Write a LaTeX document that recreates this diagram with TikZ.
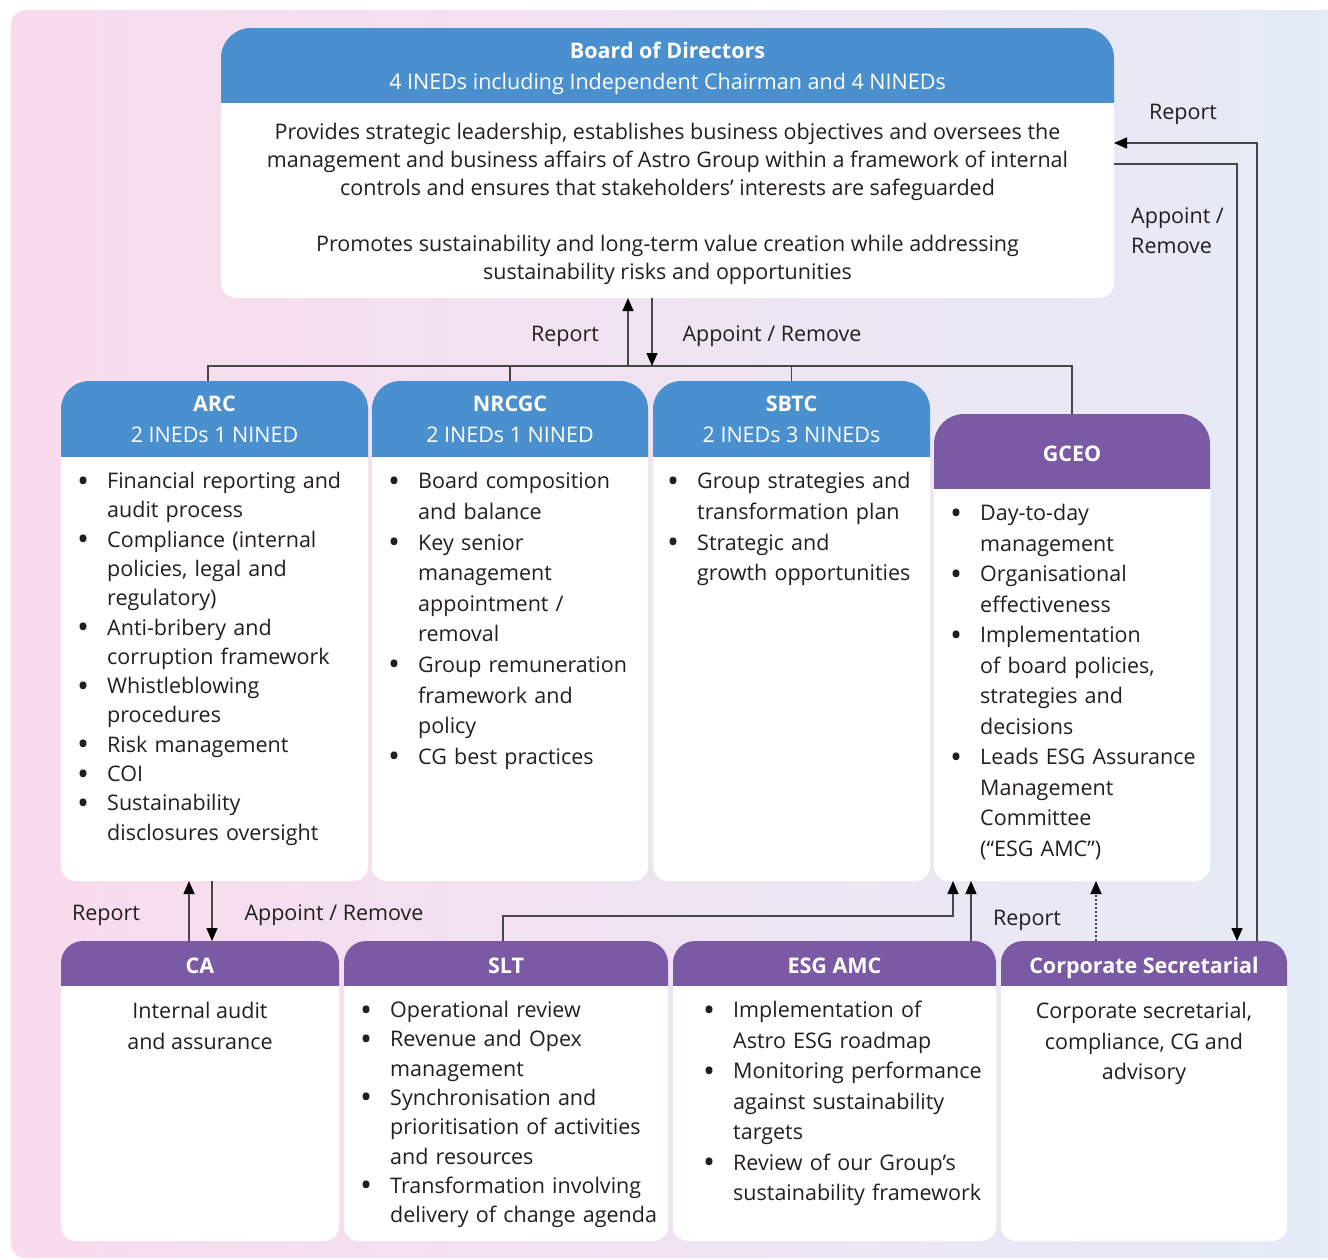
\documentclass[tikz,border=0pt]{standalone}
\usepackage{fontspec}
\setmainfont{Open Sans}
\usetikzlibrary{arrows.meta,positioning}

\definecolor{bgpink}{RGB}{249,219,238}
\definecolor{bgblue}{RGB}{228,236,246}
\definecolor{hdblue}{RGB}{74,144,206}
\definecolor{hdpurple}{RGB}{122,90,165}
\definecolor{ink}{RGB}{35,31,32}
\definecolor{linkgray}{RGB}{70,70,70}

\newlength\bulhang
\setlength\bulhang{27pt}
\newcommand{\itm}{\par\noindent\hangindent=\bulhang\hangafter=1%
  \makebox[\bulhang][l]{\kern-3pt\raisebox{-3.5pt}{\fontsize{32}{0}\selectfont\textbullet}}}
\newcommand{\hstrut}{\rule[-5.2pt]{0pt}{30.8pt}}

\tikzset{
  head/.style 2 args={inner sep=0pt, outer sep=0pt, text=white, align=center,
    font=\fontsize{21.5}{31}\selectfont,
    path picture={\fill[#1, rounded corners=#2] (path picture bounding box.north west) rectangle ([yshift=-40pt]path picture bounding box.south east);}},
  body/.style={inner sep=0pt, outer sep=0pt,
    path picture={\fill[white, rounded corners=15pt] ([yshift=30pt]path picture bounding box.north west) rectangle (path picture bounding box.south east);}},
  txt/.style={inner sep=0pt, text=ink, text width=330pt, anchor=north west,
    font=\fontsize{21.5}{#1}\selectfont},
  txt/.default=29.3,
  ctxt/.style={inner sep=0pt, text=ink, align=center, anchor=north,
    font=\fontsize{21.5}{#1}\selectfont},
  ctxt/.default=30.5,
  lbl/.style={inner sep=0pt, text=ink, font=\fontsize{21.5}{30}\selectfont},
  link/.style={draw=linkgray, line width=1.4pt},
  arrow/.style={link, -{Triangle[length=13pt,width=11pt,black]}},
}

\begin{document}
\begin{tikzpicture}[x=1pt,y=-1pt]
  \useasboundingbox (0,0) rectangle (1328,1259);
  % background
  \shade[left color=bgpink, right color=bgblue, rounded corners=15pt] (11,10) rectangle (1360,1258);

  % board
  \node[head={hdblue}{30pt}, minimum width=893pt, minimum height=80pt] (board) at (667.5,68)
    {\textbf{Board of Directors}\\4 INEDs including Independent Chairman and 4 NINEDs};
  \node[body, minimum width=893pt, minimum height=195pt] (boardb) at (667.5,200.5) {};
  \node[ctxt=28] (boardtxt) at ([yshift=-20pt]boardb.north)
    {Provides strategic leadership, establishes business objectives and oversees the\\
     management and business affairs of Astro Group within a framework of internal\\
     controls and ensures that stakeholders’ interests are safeguarded\\[28pt]
     Promotes sustainability and long-term value creation while addressing\\
     sustainability risks and opportunities};

  % committees
  \node[head={hdblue}{28pt}, minimum width=307pt, minimum height=76pt] (arc) at (214.5,419)
    {\textbf{ARC}\\2 INEDs 1 NINED};
  \node[body, minimum width=307pt, minimum height=424pt, below=0pt of arc] (arcb) {};
  \node[txt] (arctxt) at ([shift={(19,2)}]arcb.north west) {%
    \itm Financial reporting and\newline audit process
    \itm Compliance (internal\newline policies, legal and\newline regulatory)
    \itm Anti-bribery and\newline corruption framework
    \itm Whistleblowing\newline procedures
    \itm Risk management
    \itm COI
    \itm Sustainability\newline disclosures oversight\par};

  \node[head={hdblue}{28pt}, minimum width=276pt, minimum height=76pt] (nrcgc) at (510,419)
    {\textbf{NRCGC}\\2 INEDs 1 NINED};
  \node[body, minimum width=276pt, minimum height=424pt, below=0pt of nrcgc] (nrcgcb) {};
  \node[txt=30.6] (nrcgctxt) at ([shift={(19,1)}]nrcgcb.north west) {%
    \itm Board composition\newline and balance
    \itm Key senior\newline management\newline appointment /\newline removal
    \itm Group remuneration\newline framework and\newline policy
    \itm CG best practices\par};

  \node[head={hdblue}{28pt}, minimum width=277pt, minimum height=76pt] (sbtc) at (791.5,419)
    {\textbf{SBTC}\\2 INEDs 3 NINEDs};
  \node[body, minimum width=277pt, minimum height=424pt, below=0pt of sbtc] (sbtcb) {};
  \node[txt=30.6] (sbtctxt) at ([shift={(17,1)}]sbtcb.north west) {%
    \itm Group strategies and\newline transformation plan
    \itm Strategic and\newline growth opportunities\par};

  \node[head={hdpurple}{30pt}, minimum width=276pt, minimum height=75pt] (gceo) at (1072,451.5)
    {\hstrut\textbf{GCEO}};
  \node[body, minimum width=276pt, minimum height=392pt, below=0pt of gceo] (gceob) {};
  \node[txt=30.5] (gceotxt) at ([shift={(19,1)}]gceob.north west) {%
    \itm Day-to-day\newline management
    \itm Organisational\newline effectiveness
    \itm Implementation\newline of board policies,\newline strategies and\newline decisions
    \itm Leads ESG Assurance\newline Management\newline Committee\newline (“ESG AMC”)\par};

  % management row
  \node[head={hdpurple}{22pt}, minimum width=278pt, minimum height=45pt] (ca) at (200,963.5)
    {\hstrut\textbf{CA}};
  \node[body, minimum width=278pt, minimum height=255pt, below=0pt of ca] (cab) {};
  \node[ctxt=31] (catxt) at ([yshift=-16pt]cab.north) {Internal audit\\and assurance};

  \node[head={hdpurple}{22pt}, minimum width=324pt, minimum height=45pt] (slt) at (506,963.5)
    {\hstrut\textbf{SLT}};
  \node[body, minimum width=324pt, minimum height=255pt, below=0pt of slt] (sltb) {};
  \node[txt] (slttxt) at ([shift={(19,2)}]sltb.north west) {%
    \itm Operational review
    \itm Revenue and Opex\newline management
    \itm Synchronisation and\newline prioritisation of activities\newline and resources
    \itm Transformation involving\newline delivery of change agenda\par};

  \node[head={hdpurple}{22pt}, minimum width=323pt, minimum height=45pt] (esg) at (834.5,963.5)
    {\hstrut\textbf{ESG AMC}};
  \node[body, minimum width=323pt, minimum height=255pt, below=0pt of esg] (esgb) {};
  \node[txt=30.5] (esgtxt) at ([shift={(33,1)}]esgb.north west) {%
    \itm Implementation of\newline Astro ESG roadmap
    \itm Monitoring performance\newline against sustainability\newline targets
    \itm Review of our Group’s\newline sustainability framework\par};

  \node[head={hdpurple}{22pt}, minimum width=286pt, minimum height=45pt] (csec) at (1144,963.5)
    {\hstrut\textbf{Corporate Secretarial}};
  \node[body, minimum width=286pt, minimum height=255pt, below=0pt of csec] (csecb) {};
  \node[ctxt] (csectxt) at ([yshift=-16pt]csecb.north) {Corporate secretarial,\\compliance, CG and\\advisory};

  % board <-> committees and GCEO
  \coordinate (bus) at (0,366);
  \draw[link] ([xshift=-6.5pt]arc.north) |- (bus -| gceo.north) -- (gceo.north);
  \draw[link] (nrcgc.north) -- (nrcgc.north |- bus);
  \draw[link] (sbtc.north) -- (sbtc.north |- bus);
  \draw[arrow] ([xshift=-39.5pt]boardb.south |- bus) -- ([xshift=-39.5pt]boardb.south);
  \draw[arrow] ([xshift=-15.5pt]boardb.south) -- ([xshift=-15.5pt]boardb.south |- bus);

  % board <-> corporate secretarial
  \draw[arrow] ([xshift=-30pt]csec.north east) |- ([yshift=57.5pt]boardb.east);
  \draw[arrow] ([yshift=36.5pt]boardb.east) -| ([xshift=-50pt]csec.north east);

  % lower row
  \draw[arrow] ([xshift=-11pt]ca.north) -- ([xshift=-11pt]ca.north |- arcb.south);
  \draw[arrow] ([xshift=12pt]ca.north |- arcb.south) -- ([xshift=12pt]ca.north);
  \draw[arrow] ([xshift=-3pt]slt.north) -- ++(0,-25) -| ([xshift=19pt]gceob.south west);
  \draw[arrow] ([xshift=37pt]gceob.south west |- esg.north) -- ([xshift=37pt]gceob.south west);
  \draw[arrow, dash pattern=on 2pt off 2pt] ([xshift=162pt]gceob.south west |- csec.north) -- ([xshift=162pt]gceob.south west);

  % labels
  \node[lbl] (rep1) at (565,336) {Report};
  \node[lbl] (app1) at (772,336) {Appoint / Remove};
  \node[lbl] (rep2) at (1183,114) {Report};
  \node[lbl, align=left, anchor=west] (app2) at (1131,231) {Appoint /\\Remove};
  \node[lbl] (rep3) at (106,915) {Report};
  \node[lbl] (app3) at (334,915) {Appoint / Remove};
  \node[lbl] (rep4) at (1027,920) {Report};
\end{tikzpicture}
\end{document}
